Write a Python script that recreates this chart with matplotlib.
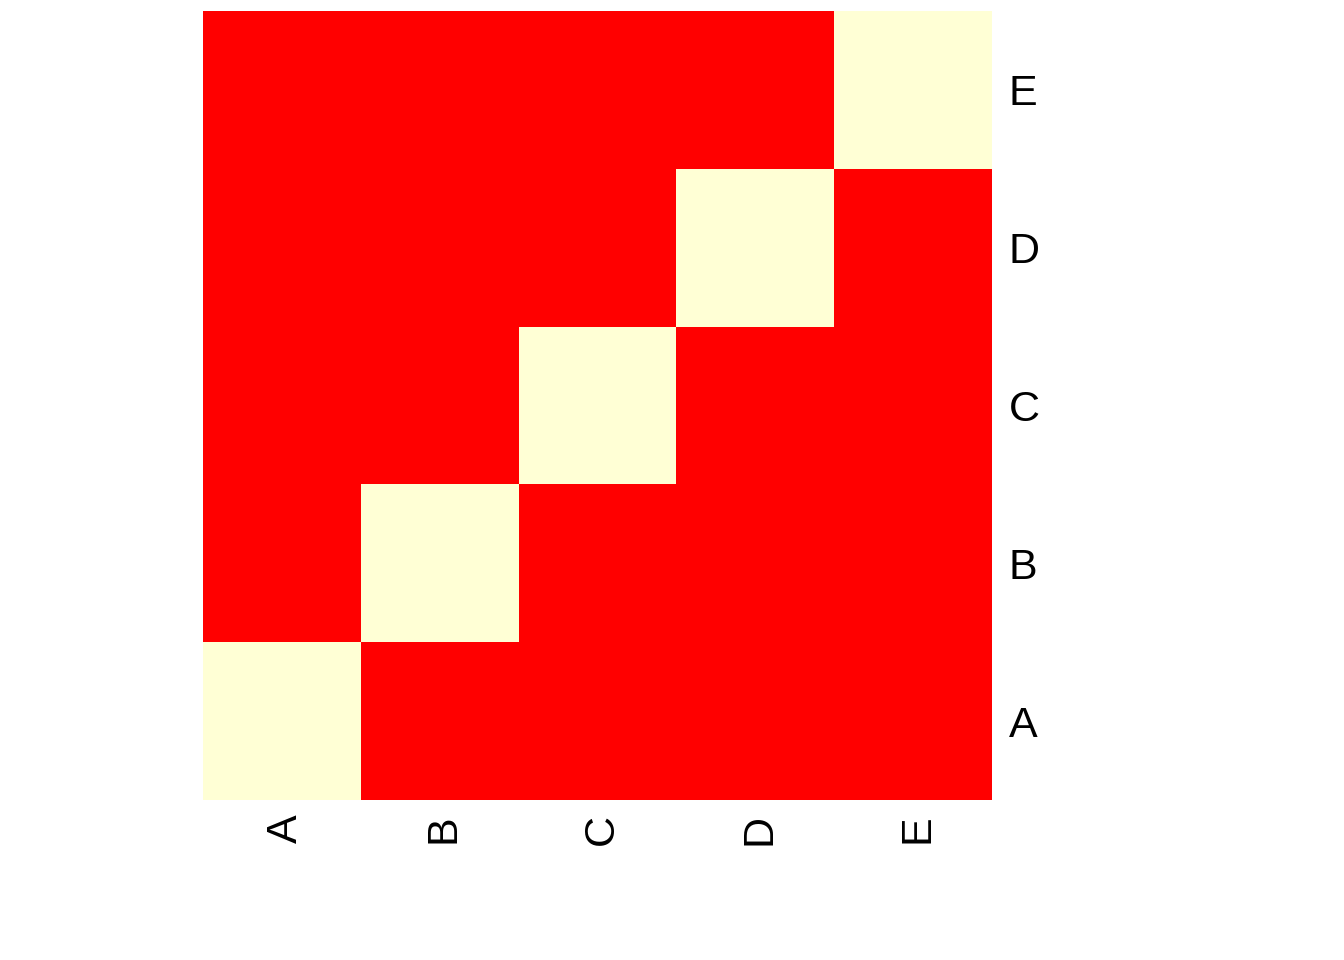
import numpy as np
import matplotlib
matplotlib.use("Agg")
import matplotlib.pyplot as plt
from matplotlib.colors import ListedColormap
from matplotlib.transforms import ScaledTranslation

col_labels = ["A", "B", "C", "D", "E"]
row_labels = ["A", "B", "C", "D", "E"]  # bottom to top
values = [
    [1, 0, 0, 0, 0],
    [0, 1, 0, 0, 0],
    [0, 0, 1, 0, 0],
    [0, 0, 0, 1, 0],
    [0, 0, 0, 0, 1],
]

heat_colors = ["#FF0000", "#FF2000", "#FF4000", "#FF6000", "#FF8000", "#FF9F00",
               "#FFBF00", "#FFDF00", "#FFFF00", "#FFFF2A", "#FFFF80", "#FFFFD5"]
cmap = ListedColormap(heat_colors)

W, H = 1344, 960
fig = plt.figure(figsize=(W / 100, H / 100), dpi=100)
ax = fig.add_axes([203 / W, (H - 800) / H, (992 - 203) / W, (800 - 11) / H])

data = np.array(values, dtype=float)
ax.pcolormesh(np.arange(len(col_labels) + 1), np.arange(len(row_labels) + 1), data,
              cmap=cmap, vmin=data.min(), vmax=data.max(), shading="flat")
ax.set_xlim(0, len(col_labels))
ax.set_ylim(0, len(row_labels))
for s in ax.spines.values():
    s.set_visible(False)

ax.set_xticks(np.arange(len(col_labels)) + 0.5)
ax.set_xticklabels(col_labels, rotation=90, fontsize=31, family="Liberation Sans")
ax.set_yticks(np.arange(len(row_labels)) + 0.5)
ax.set_yticklabels(row_labels, fontsize=31, family="Liberation Sans")
ax.yaxis.tick_right()
ax.tick_params(axis="both", length=0)
ax.tick_params(axis="x", pad=10)
ax.tick_params(axis="y", pad=12)

shift = ScaledTranslation(4 / 100, 0, fig.dpi_scale_trans)
for lbl in ax.get_xticklabels():
    lbl.set_transform(lbl.get_transform() + shift)

fig.savefig("out.png", dpi=100, facecolor="white")
